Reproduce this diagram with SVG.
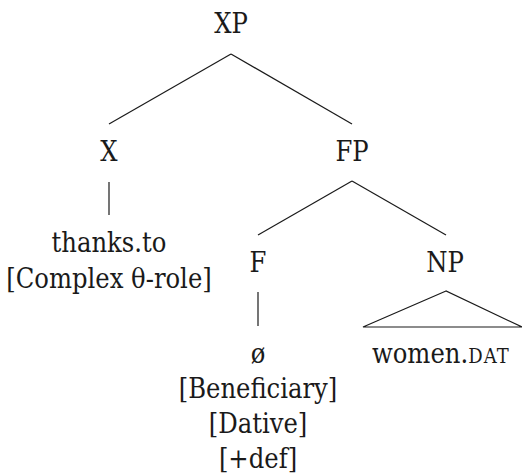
<svg xmlns="http://www.w3.org/2000/svg" width="522" height="474" viewBox="0 0 522 474">
<style>
text{font-size:27px;fill:#1a1a1a;text-anchor:middle;font-stretch:condensed}
.sc{font-size:20px;letter-spacing:1.2px}
line,polygon{stroke:#1a1a1a;stroke-width:1.2;fill:none}
</style>
<rect width="522" height="474" fill="#ffffff"/>
<g id="connectors">
<line x1="231" y1="54" x2="109" y2="124"/>
<line x1="231" y1="54" x2="352" y2="124"/>
<line x1="109" y1="182" x2="109" y2="215"/>
<line x1="352" y1="181" x2="258" y2="235"/>
<line x1="352" y1="181" x2="446" y2="235"/>
<line x1="258" y1="292" x2="258" y2="326"/>
<polygon points="446,291 363,327 522,327"/>
</g>
<g font-family="'DejaVu Serif Condensed', 'DejaVu Serif', serif">
<g id="XP"><text x="231" y="33">XP</text></g>
<g id="X"><text x="109" y="161">X</text></g>
<g id="FP"><text x="352" y="161">FP</text></g>
<g id="thanks"><text x="109" y="252">thanks.to</text><text x="109" y="288">[Complex θ-role]</text></g>
<g id="F"><text x="258" y="272">F</text></g>
<g id="NP"><text x="445" y="272">NP</text></g>
<g id="null"><text x="258" y="363">ø</text><text x="258" y="398">[Beneficiary]</text><text x="258" y="433">[Dative]</text><text x="258" y="468">[+def]</text></g>
<g id="women"><text x="441" y="363">women.<tspan class="sc">DAT</tspan></text></g>
</g>
</svg>
